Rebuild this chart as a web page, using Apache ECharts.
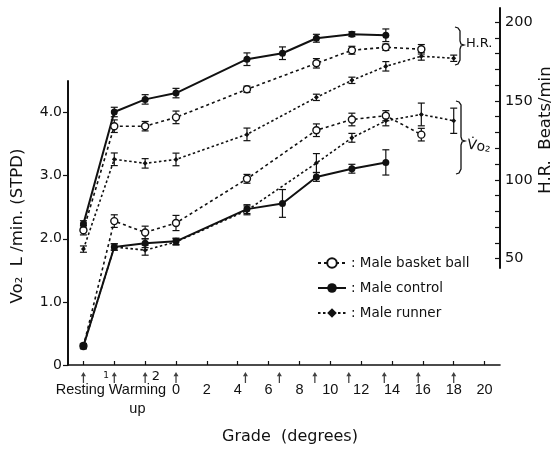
<!DOCTYPE html>
<html>
<head>
<meta charset="utf-8">
<script src="https://cdn.jsdelivr.net/npm/echarts@6/dist/echarts.min.js"></script>
<style>html,body{margin:0;padding:0;background:#fff}#c{width:560px;height:454px}</style>
</head>
<body>
<div id="c"></div>
<script>
// ---- data ----
const seriesNames = ['Male basket ball', 'Male control', 'Male runner'];
// x positions: Resting=-6, Warming up 1=-4, Warming up 2=-2, then grade (degrees)
const xControl = [-6, -4, -2, 0, 4.6, 6.9, 9.1, 11.4, 13.6];
const xBasket  = [-6, -4, -2, 0, 4.6, 9.1, 11.4, 13.6, 15.9];
const xRunner  = [-6, -4, -2, 0, 4.6, 9.1, 11.4, 13.6, 15.9, 18];

// Heart rate (beats/min)
const hrControl = [72, 143, 151, 155, 176.5, 180.3, 189.8, 192.4, 191.7];
const hrBasket  = [68, 134, 134, 139.6, 157.4, 173.9, 182.2, 184.1, 182.8];
const hrRunner  = [56, 113, 110.4, 112.9, 128.8, 152.3, 163.1, 172, 178.4, 177.1];
const hrControlErr = [2, 3, 3, 3, 4, 4, 2.5, 1.5, 4];
const hrBasketErr  = [3, 4, 3, 4, 2, 3, 2.5, 2, 3];
const hrRunnerErr  = [2, 4, 3, 4, 4, 2, 2, 3, 2.5, 2];

// VO2 (L/min STPD)
const vo2Control = [0.3, 1.87, 1.93, 1.96, 2.47, 2.56, 2.98, 3.11, 3.21];
const vo2Basket  = [0.3, 2.28, 2.1, 2.25, 2.95, 3.72, 3.89, 3.95, 3.65];
const vo2Runner  = [0.3, 1.87, 1.82, 1.95, 2.45, 3.2, 3.6, 3.87, 3.97, 3.87];
const vo2ControlErr = [0.04, 0.05, 0.07, 0.05, 0.07, 0.22, 0.07, 0.07, 0.2];
const vo2BasketErr  = [0.04, 0.1, 0.1, 0.12, 0.07, 0.1, 0.1, 0.08, 0.1];
const vo2RunnerErr  = [0.04, 0.05, 0.08, 0.05, 0.07, 0.15, 0.07, 0.08, 0.18, 0.2];

// measurement arrows under the x axis
const arrowX = [-6, -4, -2, 0, 4.5, 6.7, 9, 11.2, 13.5, 15.7, 18];

// tick labels
const xTickValues = [-6, -4, -2, 0, 2, 4, 6, 8, 10, 12, 14, 16, 18, 20];
const xLabelValues = [-6.2, -2.5, 0, 2, 4, 6, 8, 10, 12, 14, 16, 18, 20];
const leftTicks = [0, 1, 2, 3, 4];
const leftTickLabels = ['0', '1.0', '2.0', '3.0', '4.0'];
const rightTicks = [50, 60, 70, 80, 90, 100, 110, 120, 130, 140, 150, 160, 170, 180, 190, 200];
const rightLabels = [50, 100, 150, 200];

// ---- build ----
const INK = '#111';
const FONT = 'DejaVu Sans';
const FONT2 = 'Liberation Sans';
function zip(xs, ys) { return xs.map((x, i) => [x, ys[i]]); }
function zip3(xs, ys, es) { return xs.map((x, i) => [x, ys[i], es[i]]); }

const styles = {
  'Male basket ball': { line: { color: INK, width: 1.6, type: [3, 3] }, symbol: 'circle', size: 7, item: { color: '#fff', borderColor: INK, borderWidth: 1.4 } },
  'Male control': { line: { color: INK, width: 2, type: 'solid' }, symbol: 'circle', size: 7, item: { color: INK, borderColor: INK, borderWidth: 0 } },
  'Male runner': { line: { color: INK, width: 1.6, type: [2.5, 2.5] }, symbol: 'diamond', size: 5, item: { color: INK, borderColor: INK, borderWidth: 0 } }
};

function lineSeries(name, data, axis) {
  const s = styles[name];
  return {
    name, type: 'line', data, xAxisIndex: axis, yAxisIndex: axis,
    symbol: s.symbol, symbolSize: s.size, showAllSymbol: true,
    lineStyle: s.line, itemStyle: s.item, z: 3, silent: true, animation: false
  };
}

function errRender(params, api) {
  const x = api.value(0), y = api.value(1), e = api.value(2);
  const hi = api.coord([x, y + e]);
  const lo = api.coord([x, y - e]);
  const w = 3.5;
  const st = { stroke: INK, lineWidth: 1.2 };
  return {
    type: 'group', children: [
      { type: 'line', shape: { x1: hi[0], y1: hi[1], x2: lo[0], y2: lo[1] }, style: st },
      { type: 'line', shape: { x1: hi[0] - w, y1: hi[1], x2: hi[0] + w, y2: hi[1] }, style: st },
      { type: 'line', shape: { x1: lo[0] - w, y1: lo[1], x2: lo[0] + w, y2: lo[1] }, style: st }
    ]
  };
}
function errSeries(data, axis) {
  return { type: 'custom', renderItem: errRender, data, xAxisIndex: axis, yAxisIndex: axis, z: 2, silent: true, animation: false };
}

const series = [
  // HR (grid 1)
  lineSeries('Male basket ball', zip(xBasket, hrBasket), 1),
  lineSeries('Male control', zip(xControl, hrControl), 1),
  lineSeries('Male runner', zip(xRunner, hrRunner), 1),
  // VO2 (grid 0)
  lineSeries('Male basket ball', zip(xBasket, vo2Basket), 0),
  lineSeries('Male control', zip(xControl, vo2Control), 0),
  lineSeries('Male runner', zip(xRunner, vo2Runner), 0),
  errSeries(zip3(xBasket, hrBasket, hrBasketErr), 1),
  errSeries(zip3(xControl, hrControl, hrControlErr), 1),
  errSeries(zip3(xRunner, hrRunner, hrRunnerErr), 1),
  errSeries(zip3(xBasket, vo2Basket, vo2BasketErr), 0),
  errSeries(zip3(xControl, vo2Control, vo2ControlErr), 0),
  errSeries(zip3(xRunner, vo2Runner, vo2RunnerErr), 0),
  {
    type: 'scatter', data: arrowX.map(x => [x, -0.2]), xAxisIndex: 0, yAxisIndex: 0,
    symbol: 'path://M5,0 L9,6 L6,6 L6,16 L4,16 L4,6 L1,6 Z', symbolSize: [5, 11],
    itemStyle: { color: INK }, clip: false, silent: true, animation: false
  }
];

const txt = (extra) => Object.assign({ fill: INK, fontFamily: FONT, fontSize: 14 }, extra);
const bracketStyle = { stroke: INK, fill: null, lineWidth: 1.3 };

const option = {
  backgroundColor: '#fff',
  animation: false,
  textStyle: { fontFamily: FONT, color: INK },
  grid: [
    { left: 68, right: 60, top: 81, bottom: 89 },
    { left: 68, right: 60, top: 8, bottom: 186 }
  ],
  xAxis: [
    {
      type: 'value', gridIndex: 0, min: -7, max: 21,
      name: 'Grade  (degrees)', nameLocation: 'middle', nameGap: 64,
      nameTextStyle: { fontSize: 16, color: INK, fontFamily: FONT, padding: [0, 0, 0, 12] },
      axisLine: { show: true, onZero: false, lineStyle: { color: INK, width: 1.6 } },
      axisTick: { show: true, inside: true, length: 4, customValues: xTickValues, lineStyle: { color: INK, width: 1.2 } },
      axisLabel: {
        customValues: xLabelValues, margin: 15, fontSize: 14.5, color: INK, fontFamily: FONT2, lineHeight: 19,
        formatter: v => v < -5 ? 'Resting' : (v < 0 ? 'Warming\nup' : String(v))
      },
      splitLine: { show: false }
    },
    {
      type: 'value', gridIndex: 1, min: -7, max: 21, show: false,
      axisLine: { show: false, onZero: false }
    }
  ],
  yAxis: [
    {
      type: 'value', gridIndex: 0, min: 0, max: 4.5,
      axisLine: { show: true, onZero: false, lineStyle: { color: INK, width: 2 } },
      axisTick: { show: true, inside: false, length: 5, customValues: leftTicks, lineStyle: { color: INK, width: 1.2 } },
      axisLabel: {
        customValues: leftTicks, margin: 6, fontSize: 14, color: INK, fontFamily: FONT,
        formatter: v => leftTickLabels[leftTicks.indexOf(v)]
      },
      splitLine: { show: false }
    },
    {
      type: 'value', gridIndex: 1, position: 'right', min: 44, max: 209,
      axisLine: { show: true, onZero: false, lineStyle: { color: INK, width: 2 } },
      axisTick: { show: true, inside: true, length: 5, customValues: rightTicks, lineStyle: { color: INK, width: 1.2 } },
      axisLabel: { customValues: rightLabels, margin: 5, fontSize: 14.5, color: INK, fontFamily: FONT },
      splitLine: { show: false }
    }
  ],
  legend: {
    data: seriesNames, orient: 'vertical', left: 312, top: 251,
    itemWidth: 28, itemHeight: 12, itemGap: 11,
    formatter: n => ': ' + n,
    textStyle: { fontSize: 13.5, color: INK, fontFamily: FONT },
    selectedMode: false
  },
  graphic: [
    { type: 'text', x: 18, y: 226, rotation: Math.PI / 2, style: txt({ text: 'Vo\u2082  L /min. (STPD)', align: 'center', verticalAlign: 'middle', fontSize: 16.5 }) },
    { type: 'text', x: 546, y: 130, rotation: Math.PI / 2, style: txt({ text: 'H.R.  Beats/min', align: 'center', verticalAlign: 'middle', fontSize: 16.5 }) },
    { type: 'text', x: 106, y: 376, style: txt({ text: '1', align: 'center', verticalAlign: 'middle', fontSize: 9 }) },
    { type: 'text', x: 156, y: 377, style: txt({ text: '2', align: 'center', verticalAlign: 'middle', fontSize: 13 }) },
    { type: 'polyline', shape: { points: [[455,27],[458,28],[460,31],[460,41],[461,44],[464,45],[461,46],[460,49],[460,60],[458,64],[455,65]] }, style: bracketStyle },
    { type: 'text', x: 466, y: 44, style: txt({ text: 'H.R.', align: 'left', verticalAlign: 'middle', fontSize: 13 }) },
    { type: 'polyline', shape: { points: [[456,101],[459,102],[461,105],[461,137],[462,140],[465,141],[462,142],[461,145],[461,169],[459,173],[456,174]] }, style: bracketStyle },
    { type: 'text', x: 467, y: 145, rotation: -0.15, style: txt({ text: 'V\u0307o\u2082', align: 'left', verticalAlign: 'middle', fontSize: 14 }) }
  ],
  series
};

const chart = echarts.init(document.getElementById('c'), null, { renderer: 'canvas' });
chart.setOption(option);
</script>
</body>
</html>
